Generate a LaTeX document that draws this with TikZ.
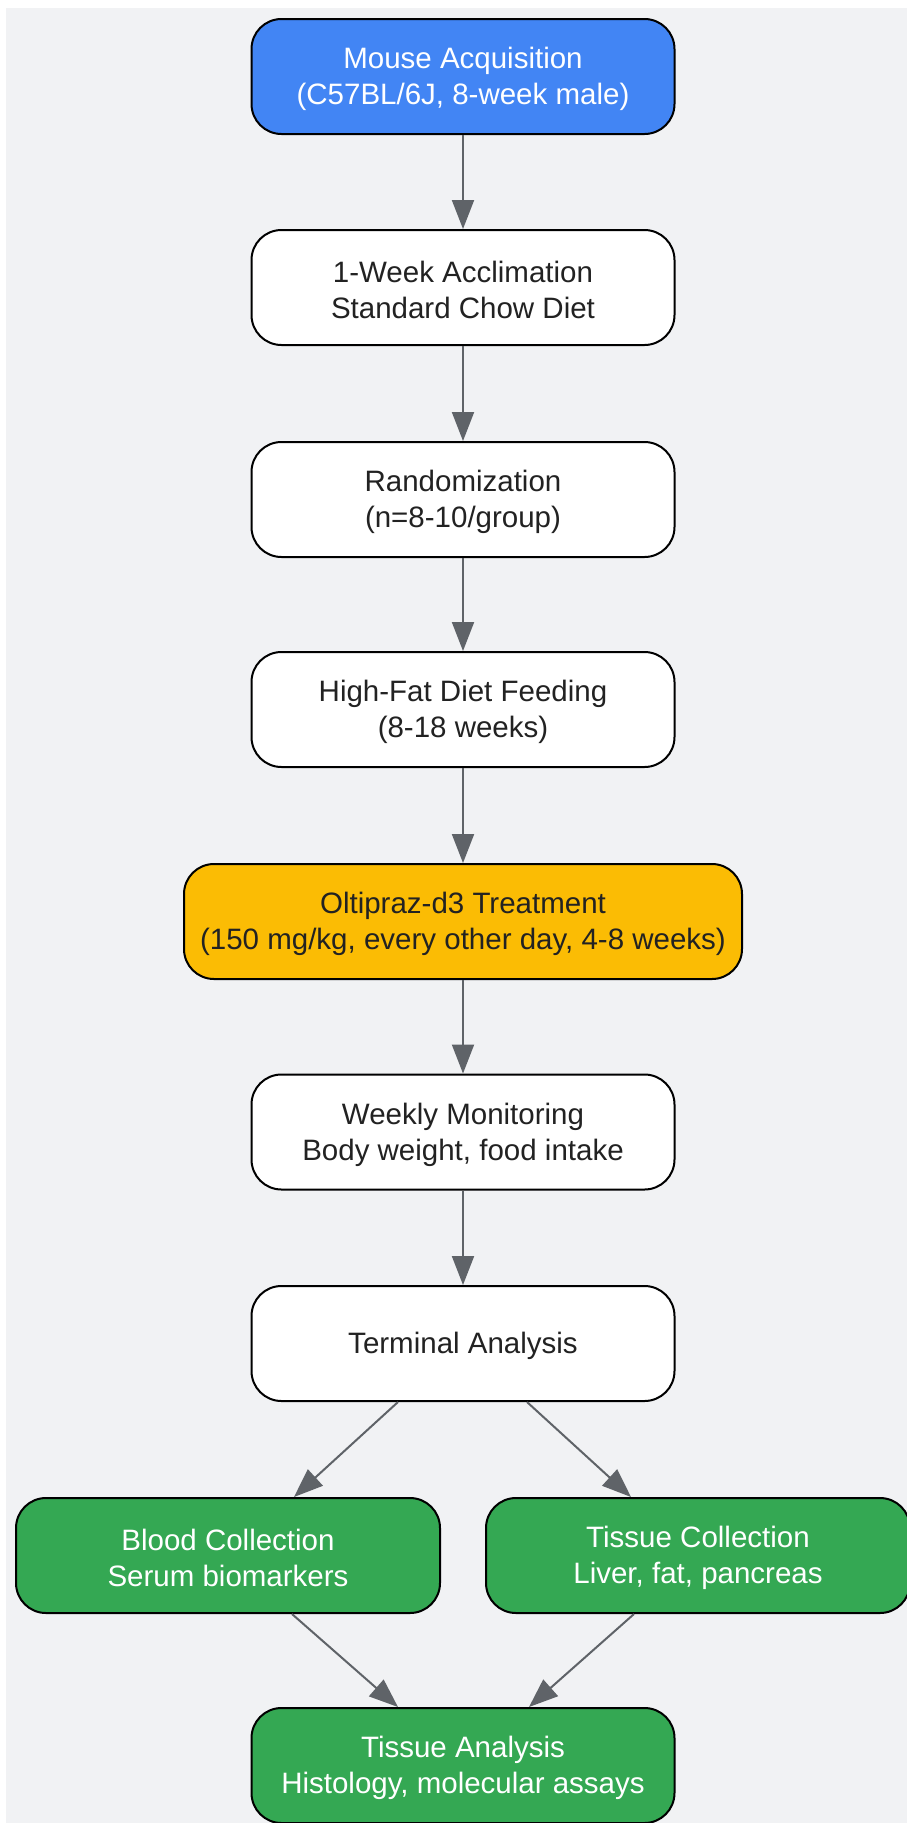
\documentclass[tikz,border=0pt]{standalone}
\usepackage{fontspec}
\setmainfont{Liberation Sans}
\usetikzlibrary{arrows.meta}
\definecolor{bgc}{HTML}{F1F2F4}
\definecolor{bluec}{HTML}{4285F4}
\definecolor{yellowc}{HTML}{FBBC04}
\definecolor{greenc}{HTML}{34A853}
\definecolor{arrc}{HTML}{5F6368}
\definecolor{txtc}{HTML}{222222}
\newcommand\topstrut{\rule{0pt}{27pt}}
\begin{document}
\begin{tikzpicture}[x=1pt,y=-1pt,
  box/.style={draw=black, line width=2pt, rounded corners=30pt, minimum width=423pt,
    minimum height=115pt, align=center, font=\fontsize{29.5}{36}\selectfont,
    text=txtc, fill=white, inner sep=0pt},
  bluebox/.style={box, fill=bluec, text=white},
  yellowbox/.style={box, fill=yellowc, minimum width=558pt},
  greenbox/.style={box, fill=greenc, text=white, minimum width=424pt},
  arr/.style={draw=arrc, line width=2pt, -{Triangle[length=29pt,width=22pt]}}
]
\useasboundingbox (0,0) rectangle (907,1823);
\fill[white] (0,0) rectangle (907,1823);
\fill[bgc] (6,8) rectangle (907,1823);

\node[bluebox] (acq) at (463,76.5) {\topstrut Mouse Acquisition\\(C57BL/6J, 8-week male)};
\node[box] (accl) at (463,287.5) {\topstrut 1-Week Acclimation\\Standard Chow Diet};
\node[box] (rand) at (463,499.5) {\topstrut Randomization\\(n=8-10/group)};
\node[box] (hfd) at (463,709.5) {\topstrut High-Fat Diet Feeding\\(8-18 weeks)};
\node[yellowbox] (olt) at (463,921.5) {\topstrut Oltipraz-d3 Treatment\\(150 mg/kg, every other day, 4-8 weeks)};
\node[box] (mon) at (463,1132) {\topstrut Weekly Monitoring\\Body weight, food intake};
\node[box] (term) at (463,1343.5) {\topstrut Terminal Analysis};
\node[greenbox] (blood) at (228,1555.5) {\topstrut Blood Collection\\Serum biomarkers};
\node[greenbox] (tcol) at (698,1555.5) {\topstrut Tissue Collection\\Liver, fat, pancreas};
\node[greenbox, minimum width=423pt] (tana) at (463,1765.5) {\topstrut Tissue Analysis\\Histology, molecular assays};

\draw[arr] (acq) -- (accl);
\draw[arr] (accl) -- (rand);
\draw[arr] (rand) -- (hfd);
\draw[arr] (hfd) -- (olt);
\draw[arr] (olt) -- (mon);
\draw[arr] (mon) -- (term);
\draw[arr] ([xshift=-65pt]term.south) -- ([xshift=66pt]blood.north);
\draw[arr] ([xshift=64pt]term.south) -- ([xshift=-67pt]tcol.north);
\draw[arr] ([xshift=64pt]blood.south) -- ([xshift=-65pt]tana.north);
\draw[arr] ([xshift=-64pt]tcol.south) -- ([xshift=66pt]tana.north);
\end{tikzpicture}
\end{document}
